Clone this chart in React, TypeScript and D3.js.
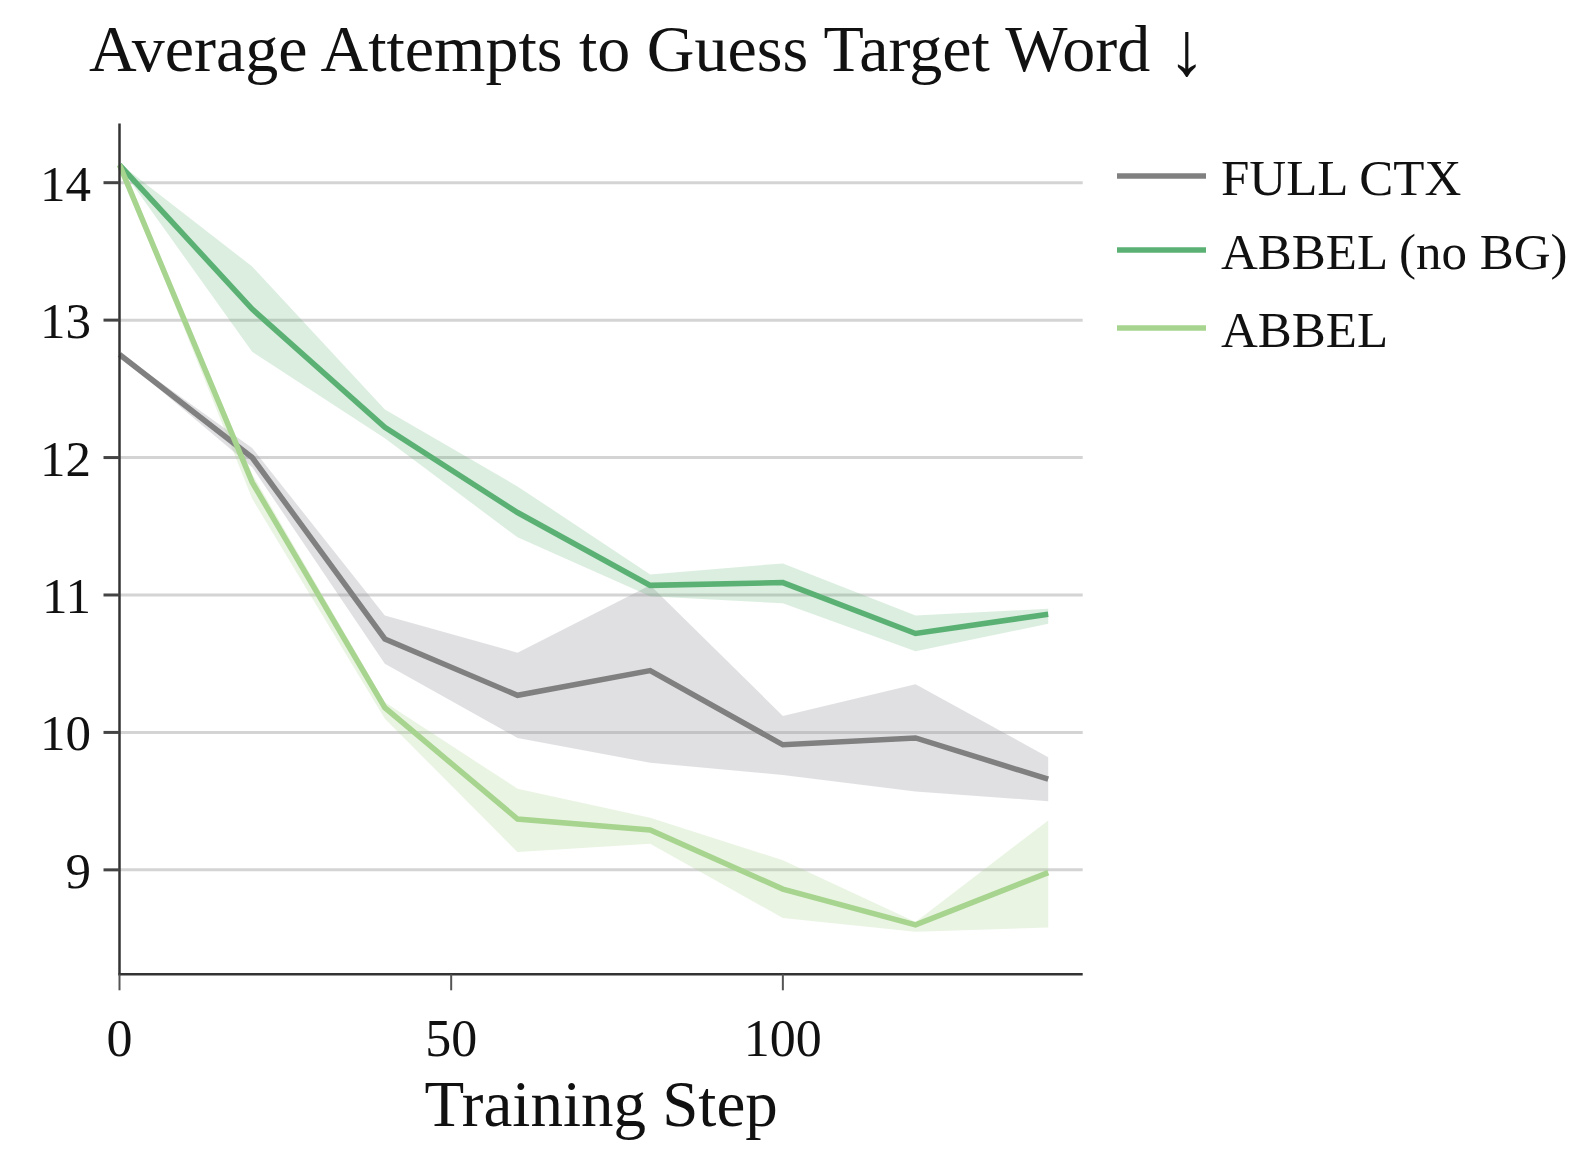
import React from 'react';
import * as d3 from 'd3';

const steps = [0, 20, 40, 60, 80, 100, 120, 140];

const fullCtxMean = [12.75, 12.0, 10.68, 10.27, 10.45, 9.91, 9.96, 9.66];
const fullCtxHigh = [12.76, 12.07, 10.85, 10.58, 11.07, 10.12, 10.35, 9.82];
const fullCtxLow = [12.74, 11.93, 10.5, 9.96, 9.78, 9.69, 9.57, 9.5];

const noBgMean = [14.13, 13.08, 12.22, 11.6, 11.07, 11.09, 10.72, 10.86];
const noBgHigh = [14.14, 13.39, 12.35, 11.79, 11.15, 11.23, 10.85, 10.9];
const noBgLow = [14.12, 12.77, 12.14, 11.42, 10.99, 10.94, 10.59, 10.79];

const abbelMean = [14.13, 11.82, 10.18, 9.37, 9.29, 8.86, 8.6, 8.98];
const abbelHigh = [14.14, 11.88, 10.22, 9.59, 9.38, 9.07, 8.62, 9.36];
const abbelLow = [14.12, 11.7, 10.1, 9.13, 9.19, 8.65, 8.55, 8.58];

const seriesNames = ['FULL CTX', 'ABBEL (no BG)', 'ABBEL'];
const lineColors = ['#808080', '#5bb174', '#a7d48e'];
const bandColors = ['rgba(160,155,165,0.32)', 'rgba(91,177,116,0.22)', 'rgba(167,212,142,0.25)'];

const xTicks = [0, 50, 100];
const yTicks = [9, 10, 11, 12, 13, 14];

const font = '"Liberation Serif", "DejaVu Serif", serif';

export default function App() {
  const left = 119.5;
  const right = 1082.7;
  const top = 123.6;
  const bottom = 974.3;

  const x = d3.scaleLinear().domain([0, 145.2]).range([left, right]);
  const y = d3.scaleLinear().domain([8.24, 14.43]).range([bottom, top]);

  const series = [
    { mean: fullCtxMean, hi: fullCtxHigh, lo: fullCtxLow },
    { mean: noBgMean, hi: noBgHigh, lo: noBgLow },
    { mean: abbelMean, hi: abbelHigh, lo: abbelLow },
  ];

  const line = d3.line<number>().x((d, i) => x(steps[i])).y(d => y(d));

  return (
    <svg width={1588} height={1156} style={{ position: 'absolute', left: 0, top: 0, background: '#fff' }}>
      <text x={89} y={71} fontFamily={font} fontSize={66} fill="#111">
        Average Attempts to Guess Target Word
      </text>
      <text x={1168} y={75} fontFamily={font} fontSize={76} fill="#111">↓</text>

      {/* grid */}
      {yTicks.map(t => (
        <line key={'g' + t} x1={left} x2={right} y1={y(t)} y2={y(t)} stroke="#d4d4d4" strokeWidth={3} />
      ))}

      {/* bands */}
      {series.map((s, k) => {
        const area = d3
          .area<number>()
          .x((d, i) => x(steps[i]))
          .y0((d, i) => y(s.lo[i]))
          .y1(d => y(d));
        return <path key={'b' + k} d={area(s.hi) || ''} fill={bandColors[k]} />;
      })}

      {/* lines */}
      {series.map((s, k) => (
        <path key={'l' + k} d={line(s.mean) || ''} fill="none" stroke={lineColors[k]} strokeWidth={5.5} />
      ))}

      {/* axes */}
      <line x1={left} x2={left} y1={top} y2={bottom + 1} stroke="#333" strokeWidth={2.5} />
      <line x1={left - 1} x2={right} y1={bottom} y2={bottom} stroke="#333" strokeWidth={2.5} />

      {yTicks.map(t => (
        <g key={'yt' + t}>
          <line x1={left - 16} x2={left} y1={y(t)} y2={y(t)} stroke="#444" strokeWidth={3} />
          <text x={91} y={y(t) + 18} textAnchor="end" fontFamily={font} fontSize={51} fill="#111">
            {t}
          </text>
        </g>
      ))}

      {xTicks.map(t => (
        <g key={'xt' + t}>
          <line x1={x(t)} x2={x(t)} y1={bottom} y2={bottom + 16} stroke="#555" strokeWidth={2} />
          <text x={x(t)} y={1056} textAnchor="middle" fontFamily={font} fontSize={52} fill="#111">
            {t}
          </text>
        </g>
      ))}

      <text x={(left + right) / 2} y={1126} textAnchor="middle" fontFamily={font} fontSize={65} fill="#111">
        Training Step
      </text>

      {/* legend */}
      {seriesNames.map((name, k) => {
        const ly = [176, 250, 328][k];
        return (
          <g key={'lg' + k}>
            <line x1={1117} x2={1206} y1={ly} y2={ly} stroke={lineColors[k]} strokeWidth={5.5} />
            <text x={1221} y={ly + 19} fontFamily={font} fontSize={51} fill="#111">
              {name}
            </text>
          </g>
        );
      })}
    </svg>
  );
}
